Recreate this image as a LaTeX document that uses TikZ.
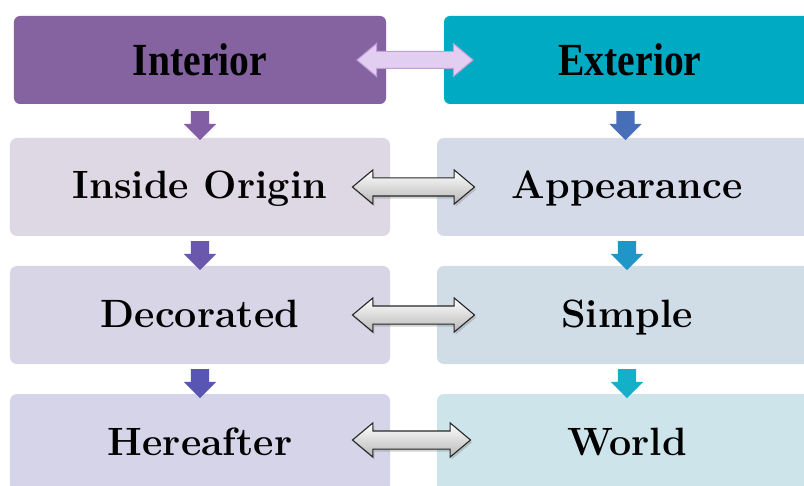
\documentclass[tikz,border=0pt]{standalone}
\usepackage{fontspec}
\newfontfamily\headfont{Liberation Serif}
\usetikzlibrary{shapes.arrows,shadows,calc}

\definecolor{intc}{RGB}{133,99,160}
\definecolor{extc}{RGB}{0,170,195}
\definecolor{lA}{RGB}{222,216,229}
\definecolor{rA}{RGB}{212,218,232}
\definecolor{lB}{RGB}{216,214,230}
\definecolor{rB}{RGB}{208,220,230}
\definecolor{lC}{RGB}{214,212,232}
\definecolor{rC}{RGB}{204,228,234}
\definecolor{dl1}{RGB}{130,95,165}
\definecolor{dl2}{RGB}{105,88,172}
\definecolor{dl3}{RGB}{88,86,178}
\definecolor{dr1}{RGB}{70,110,185}
\definecolor{dr2}{RGB}{30,150,200}
\definecolor{dr3}{RGB}{20,175,200}
\definecolor{lavfill}{RGB}{226,206,240}
\definecolor{lavedge}{RGB}{190,160,215}

\newcommand{\headtext}[1]{\scalebox{0.86}[1]{\headfont\bfseries\fontsize{46bp}{46bp}\selectfont #1}}

\tikzset{
  headbox/.style={rounded corners=6bp, minimum width=372bp, minimum height=88bp, inner sep=0pt},
  rowbox/.style={rounded corners=7bp, minimum width=380bp, minimum height=98bp, inner sep=0pt,
    text height=30bp, text depth=6bp,
    font=\bfseries\fontsize{39.5bp}{41bp}\selectfont},
  downarrow/.style={single arrow, rotate=-90, minimum height=29bp,
    inner xsep=0pt, inner ysep=9bp, single arrow head extend=7bp, draw=none},
  linkarrow/.style={double arrow, minimum height=122bp, inner xsep=0pt, inner ysep=8.5bp,
    double arrow head extend=8bp, double arrow tip angle=80,
    draw=black!85, line width=1.1bp, top color=white, bottom color=black!28,
    drop shadow={opacity=0.35, shadow xshift=1.5bp, shadow yshift=-2.5bp}},
  toparrow/.style={double arrow, minimum height=116bp, inner xsep=0pt, inner ysep=8bp,
    double arrow head extend=8bp, double arrow tip angle=80,
    draw=lavedge, line width=1bp, fill=lavfill}
}

\begin{document}
\begin{tikzpicture}[x=1bp,y=-1bp]
\useasboundingbox (0,0) rectangle (804,486);
\fill[white] (0,0) rectangle (804,486);
\begin{scope}
\clip (0,0) rectangle (804,486);

% header boxes
\node[headbox, fill=intc] (int) at (200,60) {\headtext{Interior}};
\node[headbox, fill=extc] (ext) at (630,60) {\headtext{Exterior}};

% left column
\node[rowbox, fill=lA] (io) at (200,187) {Inside Origin};
\node[rowbox, fill=lB] (dec) at (200,315) {Decorated};
\node[rowbox, fill=lC] (her) at (200,443) {Hereafter};

% right column
\node[rowbox, fill=rA] (app) at (627,187) {Appearance};
\node[rowbox, fill=rB] (sim) at (627,315) {Simple};
\node[rowbox, fill=rC] (wor) at (627,443) {World};

% downward arrows
\node[downarrow, fill=dl1] (d1) at ($(int.south)!0.5!(io.north)$) {};
\node[downarrow, fill=dl2] (d2) at ($(io.south)!0.5!(dec.north)$) {};
\node[downarrow, fill=dl3] (d3) at ($(dec.south)!0.5!(her.north)$) {};
\node[downarrow, fill=dr1] (d4) at ($(ext.south)!0.5!(app.north)+(-3,0)$) {};
\node[downarrow, fill=dr2] (d5) at ($(app.south)!0.5!(sim.north)$) {};
\node[downarrow, fill=dr3] (d6) at ($(sim.south)!0.5!(wor.north)$) {};

% horizontal links
\node[toparrow] (l0) at ($(int.east)!0.5!(ext.west)$) {};
\node[linkarrow] (l1) at ($(io.east)!0.5!(app.west)$) {};
\node[linkarrow] (l2) at ($(dec.east)!0.5!(sim.west)$) {};
\node[linkarrow, minimum height=118bp] (l3) at ($(her.east)!0.5!(wor.west)+(-2,-3)$) {};
\end{scope}
\end{tikzpicture}
\end{document}
